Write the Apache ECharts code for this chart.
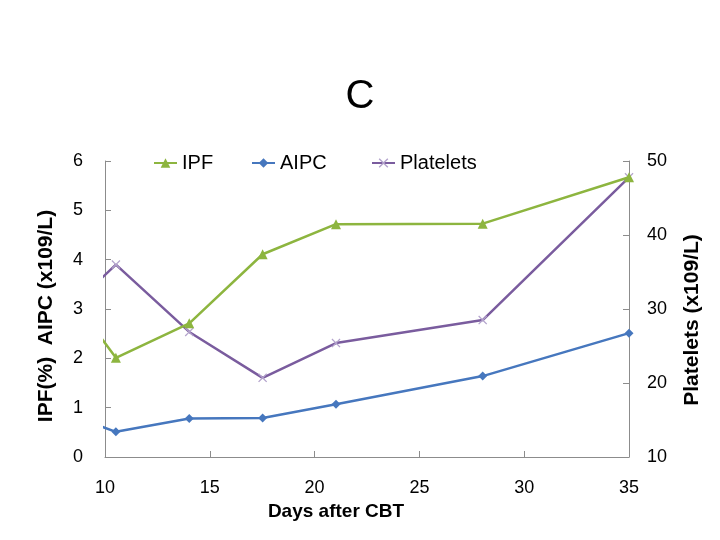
<!DOCTYPE html>
<html>
<head>
<meta charset="utf-8">
<script src="https://cdn.jsdelivr.net/npm/echarts@6/dist/echarts.min.js"></script>
<style>html,body{margin:0;padding:0;background:#fff}#c{width:720px;height:540px}</style>
</head>
<body>
<div id="c"></div>
<script>
// Days after CBT (first point lies left of the visible axis and is clipped)
var ipfDays = [7, 10.52, 14.02, 17.52, 21.02, 28.02, 35];
var ipfValues = [4.04, 2.01, 2.71, 4.11, 4.72, 4.73, 5.67];
var aipcDays = [7, 10.52, 14.02, 17.52, 21.02, 28.02, 35];
var aipcValues = [1.05, 0.51, 0.78, 0.79, 1.07, 1.64, 2.51];
var pltDays = [7, 10.52, 14.02, 17.52, 21.02, 28.02, 35];
var pltValues = [26.5, 36.0, 26.9, 20.7, 25.4, 28.5, 47.8];
var seriesNames = ['IPF', 'AIPC', 'Platelets'];
var xTicks = { min: 10, max: 35, interval: 5 };
var leftTicks = { min: 0, max: 6, interval: 1 };
var rightTicks = { min: 10, max: 50, interval: 10 };

function pairs(xs, ys) { return xs.map(function (x, i) { return [x, ys[i]]; }); }

var FONT = 'Liberation Sans, Arial, sans-serif';
var axisGrey = '#8c8c8c';
var crossPath = 'path://M1,0 L5,4 L9,0 L10,1 L6,5 L10,9 L9,10 L5,6 L1,10 L0,9 L4,5 L0,1 Z';

var chart = echarts.init(document.getElementById('c'), null, { renderer: 'canvas' });
var legendBase = {
  top: 148, itemWidth: 23, itemHeight: 12, itemGap: 0,
  textStyle: { fontFamily: FONT, fontSize: 20, color: '#000' }
};
chart.setOption({
  animation: false,
  backgroundColor: '#fff',
  title: {
    text: 'C', left: 'center', top: 72,
    textStyle: { fontFamily: FONT, fontSize: 40, fontWeight: 'normal', color: '#000' }
  },
  legend: [
    Object.assign({ left: 148, data: [seriesNames[0]] }, legendBase),
    Object.assign({ left: 246, data: [seriesNames[1]] }, legendBase),
    Object.assign({ left: 366, data: [seriesNames[2]] }, legendBase)
  ],
  grid: { left: 105, right: 91, top: 161, bottom: 83, containLabel: false },
  xAxis: {
    type: 'value', min: xTicks.min, max: xTicks.max, interval: xTicks.interval,
    name: 'Days after CBT', nameLocation: 'middle', nameGap: 40,
    nameTextStyle: { fontFamily: FONT, fontSize: 19, fontWeight: 'bold', color: '#000', padding: [0, 62, 0, 0] },
    axisLine: { show: true, onZero: false, lineStyle: { color: axisGrey, width: 1 } },
    axisTick: { show: true, inside: true, length: 6, lineStyle: { color: axisGrey } },
    axisLabel: { fontFamily: FONT, fontSize: 18, color: '#000', margin: 22 },
    splitLine: { show: false }
  },
  yAxis: [
    {
      type: 'value', position: 'left', min: leftTicks.min, max: leftTicks.max, interval: leftTicks.interval,
      name: 'IPF(%)  AIPC (x109/L)', nameLocation: 'middle', nameGap: 48,
      nameTextStyle: { fontFamily: FONT, fontSize: 21, fontWeight: 'bold', color: '#000', padding: [0, 14, 0, 0] },
      axisLine: { show: true, lineStyle: { color: axisGrey, width: 1 } },
      axisTick: { show: true, inside: true, length: 6, lineStyle: { color: axisGrey } },
      axisLabel: { fontFamily: FONT, fontSize: 18, color: '#000', margin: 22 },
      splitLine: { show: false }
    },
    {
      type: 'value', position: 'right', min: rightTicks.min, max: rightTicks.max, interval: rightTicks.interval,
      name: 'Platelets (x109/L)', nameLocation: 'middle', nameGap: 53,
      nameTextStyle: { fontFamily: FONT, fontSize: 21, fontWeight: 'bold', color: '#000', padding: [0, 22, 0, 0] },
      axisLine: { show: true, lineStyle: { color: axisGrey, width: 1 } },
      axisTick: { show: true, inside: true, length: 6, lineStyle: { color: axisGrey } },
      axisLabel: { fontFamily: FONT, fontSize: 18, color: '#000', margin: 18 },
      splitLine: { show: false }
    }
  ],
  series: [
    {
      name: seriesNames[0], type: 'line', yAxisIndex: 0, clip: true,
      data: pairs(ipfDays, ipfValues),
      symbol: 'triangle', symbolSize: 10, showAllSymbol: true,
      lineStyle: { color: '#8db53f', width: 2.5 },
      itemStyle: { color: '#8db53f' }
    },
    {
      name: seriesNames[1], type: 'line', yAxisIndex: 0, clip: true,
      data: pairs(aipcDays, aipcValues),
      symbol: 'diamond', symbolSize: 9, showAllSymbol: true,
      lineStyle: { color: '#4677be', width: 2.5 },
      itemStyle: { color: '#4677be' }
    },
    {
      name: seriesNames[2], type: 'line', yAxisIndex: 1, clip: true, z: 1,
      data: pairs(pltDays, pltValues),
      symbol: crossPath, symbolSize: 9, showAllSymbol: true,
      lineStyle: { color: '#7a5c9e', width: 2.5 },
      itemStyle: { color: '#b3a3cc' }
    }
  ]
});
</script>
</body>
</html>
